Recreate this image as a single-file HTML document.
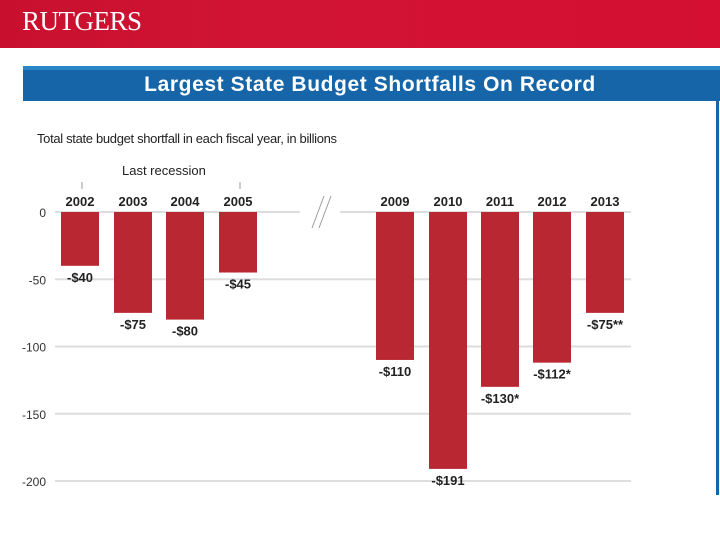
<!DOCTYPE html>
<html><head><meta charset="utf-8"><style>
body{margin:0;width:720px;height:540px;overflow:hidden;background:#fff;font-family:"Liberation Sans",sans-serif;position:relative}
.hdr{position:absolute;left:0;top:0;width:720px;height:48px;background:linear-gradient(90deg,#c8102e 0%,#d21434 40%,#d40f32 100%)}
.logo{position:absolute;left:22px;top:6px;color:#fff;font-family:"Liberation Serif",serif;font-size:27px;letter-spacing:-0.5px}
.tb{position:absolute;left:23px;top:66px;width:697px;height:35px;background:#1565a8;border-top:4px solid #2a86c8;box-sizing:border-box}
.tt{position:absolute;left:0;width:694px;top:3px;text-align:center;color:#fff;font-weight:bold;font-size:21px;letter-spacing:0.6px}
.rl{position:absolute;left:716px;top:100px;width:3px;height:395px;background:#1565a8}
svg{position:absolute;left:0;top:0}
</style></head><body>
<div class="hdr"><div class="logo">RUTGERS</div></div>
<div class="tb"><div class="tt">Largest State Budget Shortfalls On Record</div></div>
<div class="rl"></div>
<svg id="c" width="720" height="540"></svg>
<script>
const categories=["2002","2003","2004","2005","2009","2010","2011","2012","2013"];
const values=[-40,-75,-80,-45,-110,-191,-130,-112,-75];
const valueLabels=["-$40","-$75","-$80","-$45","-$110","-$191","-$130*","-$112*","-$75**"];
const ticks=[0,-50,-100,-150,-200];
const barLeft=[61,114,166,219,376,429,481,533,586];
const NS="http://www.w3.org/2000/svg",svg=document.getElementById('c');
const y=v=>212-v*1.345;
function mk(t,a,txt){const e=document.createElementNS(NS,t);for(const k in a)e.setAttribute(k,a[k]);if(txt!==undefined)e.textContent=txt;svg.appendChild(e);return e;}
let e=mk('text',{x:37,y:143,'font-size':13,fill:'#222','textLength':300},'Total state budget shortfall in each fiscal year, in billions');


e=mk('text',{x:122,y:175,'font-size':13,fill:'#222'},'Last recession');


mk('line',{x1:82,y1:182,x2:82,y2:189,stroke:'#999'});
mk('line',{x1:240,y1:182,x2:240,y2:189,stroke:'#999'});
ticks.forEach(t=>{
 const l=mk('line',{x1:55,x2:631,y1:y(t),y2:y(t),stroke:'#ddd','stroke-width':2});
 
 
 const tx=mk('text',{x:46,y:y(t)+5,'font-size':12,fill:'#333','text-anchor':'end'},t);
 
 
});
mk('rect',{x:300,y:195,width:40,height:35,fill:'#fff'});
mk('line',{x1:312,y1:228,x2:324,y2:196,stroke:'#999'});
mk('line',{x1:319,y1:228,x2:331,y2:196,stroke:'#999'});
values.forEach((v,i)=>{
 const x=barLeft[i];
 const r=mk('rect',{x:x,y:y(0),width:38,height:y(v)-y(0),fill:'#b92732'});
 
 
 const c=mk('text',{x:x+19,y:206,'font-size':13,'font-weight':'bold',fill:'#222','text-anchor':'middle'},categories[i]);
 
 
 const vl=mk('text',{x:x+19,y:y(v)+16,'font-size':13,'font-weight':'bold',fill:'#222','text-anchor':'middle'},valueLabels[i]);
 
 
});
</script>
</body></html>
